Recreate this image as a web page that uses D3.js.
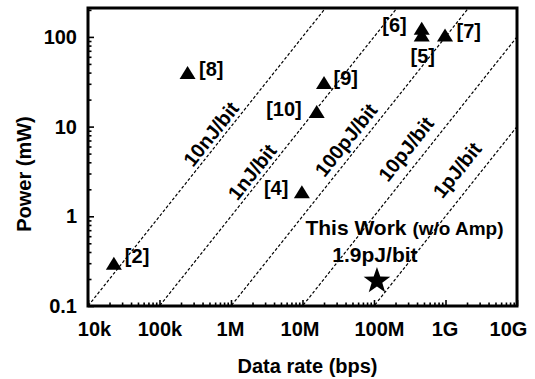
<!DOCTYPE html>
<html>
<head>
<meta charset="utf-8">
<script src="https://cdn.jsdelivr.net/npm/d3@7"></script>
<style>
  body { margin: 0; background: #fff; }
  svg { display: block; font-family: "Liberation Sans", Arial, sans-serif; font-weight: bold; }
</style>
</head>
<body>
<svg width="535" height="379"></svg>
<script>

// prior works (triangles)
const works = ['[2]', '[8]', '[10]', '[9]', '[4]', '[6]', '[5]', '[7]'];
const workRates = [23e3, 247e3, 15.8e6, 20e6, 9.8e6, 465e6, 465e6, 985e6];   // bps
const workPowers = [0.3, 40, 14.7, 31, 1.88, 125, 105, 105];                // mW

// this work (star)
const thisRate = 110e6;
const thisPower = 0.19;

// constant energy-per-bit lines
const energies = [1e-8, 1e-9, 1e-10, 1e-11, 1e-12];   // J/bit
const energyNames = ['10nJ/bit', '1nJ/bit', '100pJ/bit', '10pJ/bit', '1pJ/bit'];

// axis ticks
const xTicks = [1e4, 1e5, 1e6, 1e7, 1e8, 1e9, 1e10];
const xTickLabels = ['10k', '100k', '1M', '10M', '100M', '1G', '10G'];
const yTicks = [0.1, 1, 10, 100];
const yTickLabels = ['0.1', '1', '10', '100'];

// label placement (layout only)
const workLabelPos = [
  [11, 0, 'start'], [11.5, 3, 'start'], [-15, 4, 'end'], [9.5, 2, 'start'],
  [-13.5, 3.5, 'end'], [-15, 4, 'end'], [1, 27.5, 'middle'], [11.5, 2.5, 'start']
];
const energyLabelAt = [[525e3, 8.27], [1.97e6, 3.12], [40.6e6, 7.09], [280e6, 5.63], [1.45e9, 3.28]];
const xNudge = [6, 0, -1, -3, 5, -1, -9];

const svg = d3.select('svg');
const pl = 88, pr = 517, pt = 8, pb = 306;

const x = d3.scaleLog().domain([1e4, 1e10]).range([pl, pr]);
const y = d3.scaleLog().domain([0.1, 210]).range([pb, pt]);

svg.append('clipPath').attr('id', 'plot')
  .append('rect')
    .attr('x', pl).attr('y', pt)
    .attr('width', pr - pl).attr('height', pb - pt);

// energy lines
const lineGen = d3.line().x(d => x(d[0])).y(d => y(d[1]));
svg.append('g').attr('clip-path', 'url(#plot)')
  .selectAll('path')
  .data(energies)
  .enter()
  .append('path')
    .attr('d', e => lineGen([1e3, 1e11].map(r => [r, e * r * 1000])))
    .attr('fill', 'none')
    .attr('stroke', '#000')
    .attr('stroke-width', 1.2)
    .attr('stroke-dasharray', '3,2');

// energy labels, rotated along the lines
const slope = Math.atan2(y(1e-8 * 1e7 * 1000) - y(1e-8 * 1e6 * 1000), x(1e7) - x(1e6)) * 180 / Math.PI;
svg.append('g')
  .selectAll('text')
  .data(energyNames)
  .enter()
  .append('text')
    .attr('transform', (d, i) => `translate(${x(energyLabelAt[i][0])},${y(energyLabelAt[i][1])}) rotate(${slope})`)
    .attr('text-anchor', 'middle')
    .attr('dominant-baseline', 'central')
    .attr('font-size', 20)
    .text(d => d);

// axes: major ticks with labels, minor ticks without, all pointing inward
const yMinor = y.ticks().filter(v => !yTicks.includes(v));
const xMinor = x.ticks().filter(v => !xTicks.includes(v));

const yAxis = svg.append('g').attr('transform', `translate(${pl},0)`)
  .call(d3.axisLeft(y).tickValues(yTicks).tickFormat((d, i) => yTickLabels[i])
    .tickSizeInner(-6).tickSizeOuter(0).tickPadding(11));
yAxis.append('g')
  .call(d3.axisLeft(y).tickValues(yMinor).tickFormat('').tickSizeInner(-3.5).tickSizeOuter(0));

const xAxis = svg.append('g').attr('transform', `translate(0,${pb})`)
  .call(d3.axisBottom(x).tickValues(xTicks).tickFormat((d, i) => xTickLabels[i])
    .tickSizeInner(-6).tickSizeOuter(0).tickPadding(16));
xAxis.append('g')
  .call(d3.axisBottom(x).tickValues(xMinor).tickFormat('').tickSizeInner(-3.5).tickSizeOuter(0));

svg.selectAll('.domain').remove();
svg.selectAll('.tick line').attr('stroke', '#000').attr('stroke-width', 1.6);
svg.selectAll('.tick text')
  .attr('font-size', 20)
  .attr('font-family', '"Liberation Sans", Arial, sans-serif')
  .attr('font-weight', 'bold')
  .attr('fill', '#000');
xAxis.selectAll('.tick text').attr('dx', (d, i) => xNudge[i]);

// frame
svg.append('rect')
  .attr('x', pl).attr('y', pt)
  .attr('width', pr - pl).attr('height', pb - pt)
  .attr('fill', 'none')
  .attr('stroke', '#000')
  .attr('stroke-width', 3);

// triangles
const triW = 16, triH = 13;
svg.append('g')
  .selectAll('path')
  .data(works)
  .enter()
  .append('path')
    .attr('d', (d, i) => {
      const cx = x(workRates[i]), cy = y(workPowers[i]);
      return `M${cx},${cy - triH / 2}L${cx + triW / 2},${cy + triH / 2}L${cx - triW / 2},${cy + triH / 2}Z`;
    })
    .attr('fill', '#000');

svg.append('g')
  .selectAll('text')
  .data(works)
  .enter()
  .append('text')
    .attr('x', (d, i) => x(workRates[i]) + workLabelPos[i][0])
    .attr('y', (d, i) => y(workPowers[i]) + workLabelPos[i][1])
    .attr('text-anchor', (d, i) => workLabelPos[i][2])
    .attr('font-size', 20)
    .text(d => d);

// star for this work
const sx = x(thisRate), sy = y(thisPower);
const ro = 14, ri = 5.6;
const starPts = d3.range(10).map(k => {
  const a = -Math.PI / 2 + k * Math.PI / 5;
  const r = k % 2 ? ri : ro;
  return [sx + r * Math.cos(a), sy + r * Math.sin(a)];
});
svg.append('path')
  .attr('d', 'M' + starPts.join('L') + 'Z')
  .attr('fill', '#000');

const tw = svg.append('text')
  .attr('x', sx + 27.5)
  .attr('y', sy - 45.5)
  .attr('text-anchor', 'middle');
tw.append('tspan').attr('font-size', 21).text('This Work ');
tw.append('tspan').attr('font-size', 19).text('(w/o Amp)');

svg.append('text')
  .attr('x', sx - 2)
  .attr('y', sy - 18.5)
  .attr('text-anchor', 'middle')
  .attr('font-size', 21)
  .text('1.9pJ/bit');

// axis titles
svg.append('text')
  .attr('x', (pl + pr) / 2 + 5)
  .attr('y', 373)
  .attr('text-anchor', 'middle')
  .attr('font-size', 20)
  .text('Data rate (bps)');

svg.append('text')
  .attr('transform', `translate(31,174) rotate(-90)`)
  .attr('text-anchor', 'middle')
  .attr('font-size', 20)
  .text('Power (mW)');

</script>
</body>
</html>
